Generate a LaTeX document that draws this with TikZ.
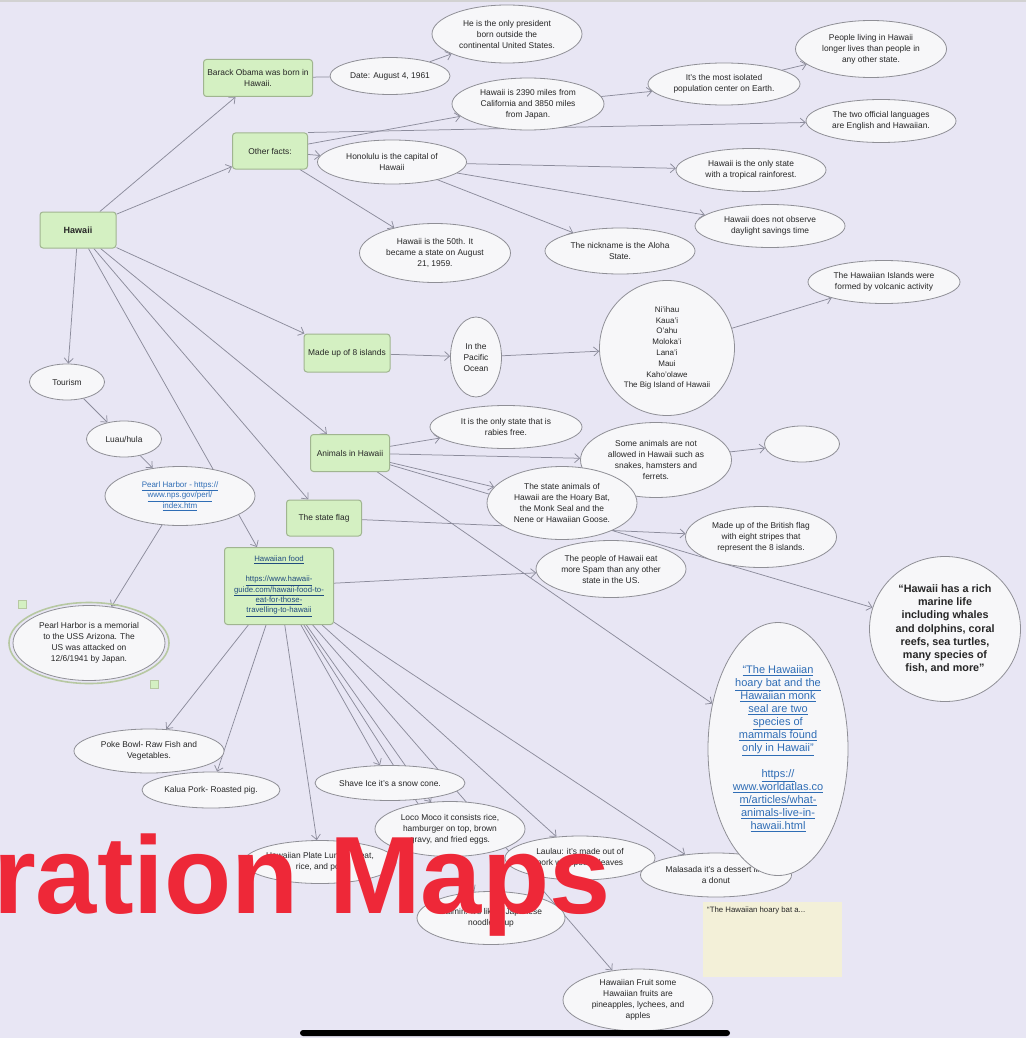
\documentclass[tikz,border=0pt]{standalone}
\usepackage{fontspec}
\setmainfont{Liberation Sans}
\usetikzlibrary{shapes.geometric,arrows.meta}
\definecolor{bgc}{HTML}{E8E6F4}
\definecolor{ovfill}{HTML}{F7F7F9}
\definecolor{ovdraw}{HTML}{8F8F96}
\definecolor{boxfill}{HTML}{D4F0C2}
\definecolor{boxdraw}{HTML}{A0B590}
\definecolor{edgec}{HTML}{8C8C9C}
\definecolor{txt}{HTML}{262626}
\definecolor{lnkc}{HTML}{2F6DB5}
\definecolor{redc}{HTML}{EE2838}
\definecolor{notec}{HTML}{F3F0D8}
\definecolor{selc}{HTML}{B7C8A2}
\newcommand{\myfs}{\fontsize{8.4}{11}\selectfont}
\newcommand{\lk}[1]{\underline{#1}}
\pgfdeclarelayer{bg}
\pgfdeclarelayer{edges}
\pgfsetlayers{bg,edges,main}
\tikzset{
  box/.style={rectangle, rounded corners=3pt, fill=boxfill, draw=boxdraw, line width=1pt,
    align=center, inner sep=1pt, font=\myfs, text=txt},
  oval/.style={ellipse, fill=ovfill, draw=ovdraw, line width=0.8pt, align=center,
    inner sep=0pt, font=\myfs, text=txt},
  sz/.style 2 args={minimum width=#1pt, minimum height=#2pt},
  conn/.style={draw=edgec, line width=0.75pt, -{Straight Barb[length=5pt,width=9pt]}},
  plain/.style={draw=edgec, line width=0.75pt},
}
\begin{document}
\begin{tikzpicture}[x=1pt,y=-1pt]
\useasboundingbox (0,0) rectangle (1026,1038);
\begin{pgfonlayer}{bg}
\fill[bgc] (0,0) rectangle (1026,1038);
\fill[gray!35] (0,0) rectangle (1026,2.5);
\end{pgfonlayer}

% main boxes
\node[box, sz={76}{36}, font=\fontsize{9}{11}\selectfont\bfseries] (haw) at (78,230) {Hawaii};
\node[box, sz={109}{37}] (obama) at (258,78) {Barack Obama was born in\\Hawaii.};
\node[box, sz={75}{36}] (other) at (270,151) {Other facts:};
\node[box, sz={86}{38}] (eight) at (347,353) {Made up of 8 islands};
\node[box, sz={79}{37}] (anim) at (350,453) {Animals in Hawaii};
\node[box, sz={75}{36}] (flag) at (324,518) {The state flag};
\node[box, sz={109}{77}, font=\fontsize{7.8}{10.3}\selectfont, text=lnkc!70!black] (food) at (279,586)
  {\lk{Hawaiian food}\\~\\\lk{https://www.hawaii-}\\\lk{guide.com/hawaii-food-to-}\\\lk{eat-for-those-}\\\lk{travelling-to-hawaii}};

% ovals top
\node[oval, sz={120}{37}] (date) at (390,76) {Date: August 4, 1961};
\node[oval, sz={150}{58}] (pres) at (507,34) {He is the only president\\born outside the\\continental United States.};
\node[oval, sz={152}{52}] (miles) at (528,104) {Hawaii is 2390 miles from\\California and 3850 miles\\from Japan.};
\node[oval, sz={152}{42}] (isol) at (724,84) {It's the most isolated\\population center on Earth.};
\node[oval, sz={151}{57}] (longer) at (871,49) {People living in Hawaii\\longer lives than people in\\any other state.};
\node[oval, sz={150}{43}] (lang) at (881,121) {The two official languages\\are English and Hawaiian.};
\node[oval, sz={149}{44}] (hono) at (392,162) {Honolulu is the capital of\\Hawaii};
\node[oval, sz={150}{43}] (rain) at (751,170) {Hawaii is the only state\\with a tropical rainforest.};
\node[oval, sz={150}{43}] (dst) at (770,226) {Hawaii does not observe\\daylight savings time};
\node[oval, sz={151}{59}] (fifty) at (435,253) {Hawaii is the 50th. It\\became a state on August\\21, 1959.};
\node[oval, sz={150}{46}] (nick) at (620,251) {The nickname is the Aloha\\State.};
\node[oval, sz={152}{43}] (volc) at (884,282) {The Hawaiian Islands were\\formed by volcanic activity};

% islands
\node[oval, sz={51}{80}] (pac) at (476,357) {In the\\Pacific\\Ocean};
\node[oval, sz={135}{135}, font=\fontsize{8}{10.8}\selectfont] (isl) at (667,348)
  {Ni'ihau\\Kaua'i\\O'ahu\\Moloka'i\\Lana'i\\Maui\\Kaho'olawe\\The Big Island of Hawaii};

% animals
\node[oval, sz={152}{43}] (rabies) at (506,427) {It is the only state that is\\rabies free.};
\node[oval, sz={151}{75}] (some) at (656,460) {Some animals are not\\allowed in Hawaii such as\\snakes, hamsters and\\ferrets.};
\node[oval, sz={75}{36}] (empty) at (802,444) {};
\node[oval, sz={150}{73}] (stanim) at (562,503) {The state animals of\\Hawaii are the Hoary Bat,\\the Monk Seal and the\\Nene or Hawaiian Goose.};
\node[oval, sz={151}{61}] (brit) at (761,537) {Made up of the British flag\\with eight stripes that\\represent the 8 islands.};
\node[oval, sz={150}{57}] (spam) at (611,569) {The people of Hawaii eat\\more Spam than any other\\state in the US.};
\node[oval, sz={151}{145}, font=\fontsize{10.8}{13.2}\selectfont\bfseries] (marine) at (945,629)
  {“Hawaii has a rich\\marine life\\including whales\\and dolphins, coral\\reefs, sea turtles,\\many species of\\fish, and more”};

% tourism
\node[oval, sz={75}{36}] (tour) at (67,382) {Tourism};
\node[oval, sz={75}{36}] (luau) at (124,439) {Luau/hula};
\node[oval, sz={150}{59}, font=\fontsize{8}{10.5}\selectfont, text=lnkc] (phlink) at (180,496)
  {\lk{Pearl Harbor - https://}\\\lk{www.nps.gov/perl/}\\\lk{index.htm}};
\node[oval, sz={152}{75}] (phmem) at (89,643) {Pearl Harbor is a memorial\\to the USS Arizona. The\\US was attacked on\\12/6/1941 by Japan.};
\draw[selc, line width=1.6pt] (phmem.center) ellipse (80 and 40.5);
\node[fill=boxfill, draw=selc, minimum size=8pt, inner sep=0pt] (selA) at (22,604) {};
\node[fill=boxfill, draw=selc, minimum size=8pt, inner sep=0pt] (selB) at (154,684) {};

% food
\node[oval, sz={150}{44}] (poke) at (149,751) {Poke Bowl- Raw Fish and\\Vegetables.};
\node[oval, sz={138}{36}] (kalua) at (211,790) {Kalua Pork- Roasted pig.};
\node[oval, sz={150}{35}] (shave) at (390,783) {Shave Ice it's a snow cone.};
\node[oval, sz={150}{55}] (loco) at (450,829) {Loco Moco it consists rice,\\hamburger on top, brown\\gravy, and fried eggs.};
\node[oval, sz={140}{43}] (plate) at (320,862) {Hawaiian Plate Lunch: meat,\\rice, and poi.};
\node[oval, sz={150}{44}] (laulau) at (580,858) {Laulau: it's made out of\\pork wrapped in leaves};
\node[oval, sz={148}{53}] (saimin) at (491,918) {Saimin: it's like a Japanese\\noodle soup};
\node[oval, sz={151}{44}] (malas) at (716,875) {Malasada it's a dessert like\\a donut};
\node[oval, sz={150}{62}] (fruit) at (638,1000) {Hawaiian Fruit some\\Hawaiian fruits are\\pineapples, lychees, and\\apples};

% bat oval (on top of malasada)
\node[oval, sz={140}{253}, font=\fontsize{11}{13}\selectfont, text=lnkc] (bat) at (778,749)
  {\lk{“The Hawaiian}\\\lk{hoary bat and the}\\\lk{Hawaiian monk}\\\lk{seal are two}\\\lk{species of}\\\lk{mammals found}\\\lk{only in Hawaii”}\\~\\\lk{https://}\\\lk{www.worldatlas.co}\\\lk{m/articles/what-}\\\lk{animals-live-in-}\\\lk{hawaii.html}};

% sticky note
\node[rectangle, fill=notec, minimum width=139pt, minimum height=75pt, inner sep=0pt, anchor=north west] (note) at (703,902) {};
\node[anchor=north west, inner sep=0pt, font=\fontsize{7.8}{10}\selectfont, text=txt] (notetxt) at (707,907) {“The Hawaiian hoary bat a...};

% connectors
\begin{pgfonlayer}{edges}
\draw[conn] (haw) -- (obama);
\draw[conn] (haw) -- (other);
\draw[plain] (obama) -- (date);
\draw[conn] (date) -- (pres);
\draw[conn] (other) -- (miles);
\draw[conn] (other.north east) -- (lang);
\draw[conn] (other) -- (hono);
\draw[conn] (hono) -- (rain);
\draw[conn] (hono) -- (dst);
\draw[conn] (other) -- (fifty);
\draw[conn] (hono) -- (nick);
\draw[conn] (miles) -- (isol);
\draw[conn] (isol) -- (longer);
\draw[conn] (haw) -- (eight);
\draw[conn] (eight) -- (pac);
\draw[conn] (pac) -- (isl);
\draw[conn] (isl) -- (volc);
\draw[conn] (haw) -- (anim);
\draw[conn] (haw) -- (flag);
\draw[conn] (haw) -- (food);
\draw[conn] (haw) -- (tour);
\draw[conn] (tour) -- (luau);
\draw[conn] (luau) -- (phlink);
\draw[conn] (phlink) -- (phmem);
\draw[conn] (anim) -- (rabies);
\draw[conn] (anim) -- (some);
\draw[conn] (anim) -- (stanim);
\draw[conn] (anim) -- (bat);
\draw[conn] (anim) -- (marine);
\draw[conn] (some) -- (empty);
\draw[conn] (flag) -- (brit);
\draw[conn] (food) -- (spam);
\draw[conn] (food) -- (poke);
\draw[conn] (food) -- (kalua);
\draw[conn] (food) -- (plate);
\draw[conn] (food) -- (shave);
\draw[conn] (food) -- (loco);
\draw[conn] (food) -- (saimin);
\draw[conn] (food) -- (fruit);
\draw[conn] (food) -- (laulau);
\draw[conn] (food) -- (malas);
\end{pgfonlayer}

% overlay text and bar
\node[anchor=base west, inner sep=0pt, text=redc, font=\fontsize{110}{110}\selectfont\bfseries] (title) at (-7,913) {ration Maps};
\node[fill=black, rounded corners=3pt, minimum width=430pt, minimum height=6pt, inner sep=0pt] (homebar) at (515,1033) {};
\end{tikzpicture}
\end{document}
